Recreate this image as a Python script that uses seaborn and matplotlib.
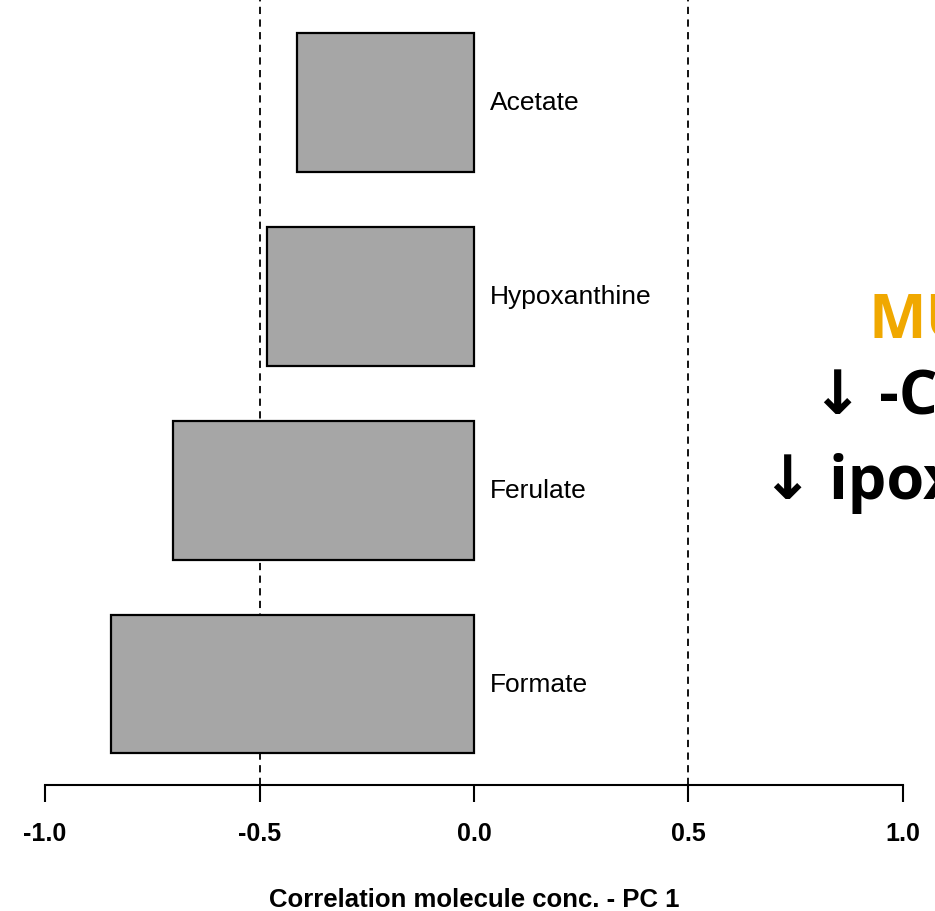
import pandas as pd
import seaborn as sns
import matplotlib.pyplot as plt

molecules = ['Acetate', 'Hypoxanthine', 'Ferulate', 'Formate']
correlations = [-0.413, -0.482, -0.702, -0.846]
ticks = [-1.0, -0.5, 0.0, 0.5, 1.0]
thresholds = [-0.5, 0.5]

df = pd.DataFrame({'molecule': molecules, 'corr': correlations})

sns.set_style('white')
plt.rcParams['font.family'] = ['Liberation Sans', 'DejaVu Sans']
plt.rcParams['text.color'] = 'black'
plt.rcParams['axes.labelcolor'] = 'black'
plt.rcParams['xtick.color'] = 'black'

fig = plt.figure(figsize=(9.35, 9.12), dpi=100)
ax = fig.add_axes([45 / 935, 126 / 912, 858 / 935, 786 / 912])

sns.barplot(data=df, x='corr', y='molecule', orient='h', color='#a6a6a6',
            saturation=1, width=0.715, edgecolor='black', linewidth=1.6, ax=ax)

for i, name in enumerate(molecules):
    ax.text(0.037, i, name, va='center', ha='left', fontsize=19, color='black')

for t in thresholds:
    ax.axvline(t, color='black', linestyle=(0, (4, 3)), linewidth=1.3, zorder=0)

ax.set_xlim(-1, 1)
ax.set_ylim(3.52, -0.532)
ax.set_xticks(ticks)
ax.set_xticklabels([f'{t:.1f}' for t in ticks], fontweight='bold', fontsize=18)
ax.set_yticks([])
ax.set_ylabel('')
ax.set_xlabel('Correlation molecule conc. - PC 1', fontweight='bold', fontsize=18.5, labelpad=30)
ax.tick_params(axis='x', direction='out', length=12, width=1.5, pad=14, bottom=True,
               color='black', labelcolor='black')
for s in ['top', 'right', 'left']:
    ax.spines[s].set_visible(False)
ax.spines['bottom'].set_linewidth(1.5)
ax.spines['bottom'].set_color('black')

side = ['Open Sans', 'Noto Sans', 'DejaVu Sans']
fig.text(868 / 935, 1 - 322 / 912, 'MU', color='#f0a800', fontsize=44, fontweight='bold',
         va='center', ha='left', family=side)
fig.text(812 / 935, 1 - 399 / 912, '↓ -C', color='black', fontsize=44, fontweight='bold',
         va='center', ha='left', family=side)
fig.text(762 / 935, 1 - 484 / 912, '↓ ipox', color='black', fontsize=44, fontweight='bold',
         va='center', ha='left', family=side)

fig.savefig('out.png', dpi=100)
